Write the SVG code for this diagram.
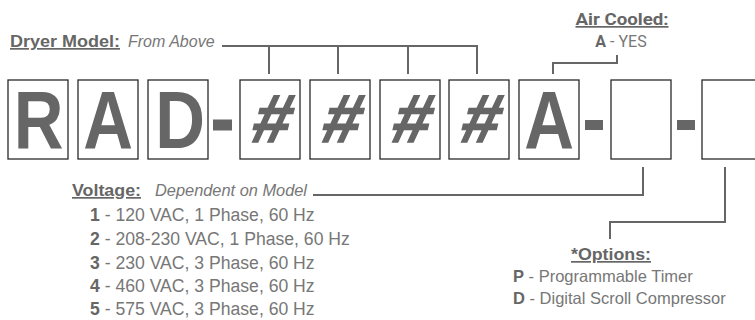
<svg xmlns="http://www.w3.org/2000/svg" width="755" height="320" viewBox="0 0 755 320">
<style>
.box{fill:#fff;stroke:#2a2a2a;stroke-width:1.3}
.big{font-family:"Liberation Sans",Arial,sans-serif;font-weight:bold;font-size:81px;fill:#666;text-anchor:middle}
.hash{font-family:"Liberation Sans",Arial,sans-serif;font-weight:bold;font-size:68px;fill:#666;stroke:#666;stroke-width:1.6;text-anchor:middle}
.dash{fill:#666}
.conn{fill:none;stroke:#666;stroke-width:2}
.head{font-family:"Liberation Sans",Arial,sans-serif;font-weight:bold;font-size:17px;fill:#666;text-decoration:underline}
.it{font-family:"Liberation Sans",Arial,sans-serif;font-style:italic;font-size:16px;fill:#777}
.txt{font-family:"Liberation Sans",Arial,sans-serif;font-size:17.6px;fill:#777}
.b{font-weight:bold;fill:#666}
.rb{font-family:Roboto,"Liberation Sans",sans-serif;font-size:16px;fill:#777}
</style>
<g id="box-R"><rect class="box" x="8" y="80" width="60" height="79"/><text class="big" transform="translate(38.5,148) scale(0.85,1)">R</text></g>
<g id="box-A"><rect class="box" x="78" y="80" width="60" height="79"/><text class="big" transform="translate(108,148) scale(0.85,1)">A</text></g>
<g id="box-D"><rect class="box" x="148" y="80" width="60" height="79"/><text class="big" transform="translate(180,148) scale(0.85,1)">D</text></g>
<g id="dash-1"><rect class="dash" x="213" y="119.5" width="19" height="11"/></g>
<g id="box-h1"><rect class="box" x="240" y="80" width="60" height="79"/><text class="hash" transform="translate(268,142) skewX(-14)">#</text></g>
<g id="box-h2"><rect class="box" x="310" y="80" width="60" height="79"/><text class="hash" transform="translate(338,142) skewX(-14)">#</text></g>
<g id="box-h3"><rect class="box" x="380" y="80" width="60" height="79"/><text class="hash" transform="translate(408,142) skewX(-14)">#</text></g>
<g id="box-h4"><rect class="box" x="449" y="80" width="60" height="79"/><text class="hash" transform="translate(477,142) skewX(-14)">#</text></g>
<g id="box-A2"><rect class="box" x="519" y="80" width="60" height="79"/><text class="big" transform="translate(549,148) scale(0.85,1)">A</text></g>
<g id="dash-2"><rect class="dash" x="585" y="120" width="18" height="10"/></g>
<g id="box-v"><rect class="box" x="611" y="80" width="60" height="79"/></g>
<g id="dash-3"><rect class="dash" x="677" y="120" width="18" height="10"/></g>
<g id="box-o"><rect class="box" x="702" y="80" width="60" height="79"/></g>

<g id="label-model">
<text class="head" x="10" y="47" textLength="110" lengthAdjust="spacingAndGlyphs">Dryer Model:</text>
<text class="it" x="128" y="47">From Above</text>
</g>
<g id="label-air">
<text class="head" x="622" y="25" text-anchor="middle" textLength="93" lengthAdjust="spacingAndGlyphs" style="font-family:Roboto,'Liberation Sans',sans-serif">Air Cooled:</text>
<text class="rb" x="621" y="47" text-anchor="middle"><tspan font-weight="bold" fill="#666">A</tspan> - YES</text>
</g>
<g id="label-voltage">
<text class="head" x="72" y="196" textLength="69" lengthAdjust="spacingAndGlyphs">Voltage:</text>
<text class="it" x="155" y="196" textLength="152" lengthAdjust="spacingAndGlyphs">Dependent on Model</text>
<text class="txt" x="90" y="221"><tspan class="b">1</tspan> - 120 VAC, 1 Phase, 60 Hz</text>
<text class="txt" x="90" y="245"><tspan class="b">2</tspan> - 208-230 VAC, 1 Phase, 60 Hz</text>
<text class="txt" x="90" y="269"><tspan class="b">3</tspan> - 230 VAC, 3 Phase, 60 Hz</text>
<text class="txt" x="90" y="292"><tspan class="b">4</tspan> - 460 VAC, 3 Phase, 60 Hz</text>
<text class="txt" x="90" y="315"><tspan class="b">5</tspan> - 575 VAC, 3 Phase, 60 Hz</text>
</g>
<g id="label-options">
<text class="head" x="611" y="260" text-anchor="middle" textLength="80" lengthAdjust="spacingAndGlyphs">*Options:</text>
<text class="txt" x="513" y="282" style="font-size:16.5px"><tspan class="b">P</tspan> - Programmable Timer</text>
<text class="txt" x="513" y="304" style="font-size:16.5px"><tspan class="b">D</tspan> - Digital Scroll Compressor</text>
</g>

<g id="connectors">
<path class="conn" d="M222 46 H478 M269 46 V74 M338 46 V74 M408 46 V74 M477 46 V74"/>
<path class="conn" d="M553 74 V63 H617 V55"/>
<path class="conn" d="M313 195 H643 V167"/>
<path class="conn" d="M725 167 V222 H610 V239"/>
</g>
</svg>
